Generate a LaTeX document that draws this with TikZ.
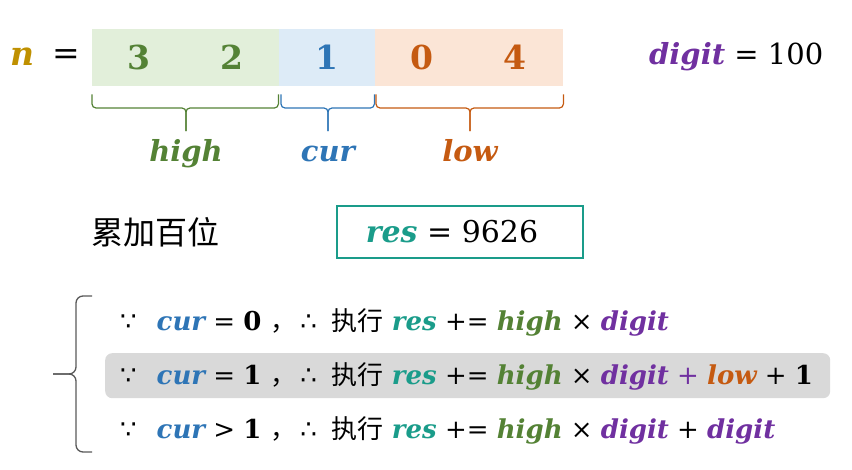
\documentclass[tikz,border=0pt]{standalone}
\usepackage{fontspec}
\setmainfont{DejaVu Serif}
\newfontfamily\cjk{Noto Sans CJK SC}
\newfontfamily\sym{DejaVu Sans}
\definecolor{cgold}{HTML}{BF9000}
\definecolor{cgreen}{HTML}{548235}
\definecolor{cblue}{HTML}{2E75B6}
\definecolor{corange}{HTML}{C55A11}
\definecolor{cpurple}{HTML}{7030A0}
\definecolor{cteal}{HTML}{1A9C8A}
\definecolor{fgreen}{HTML}{E2EFDA}
\definecolor{fblue}{HTML}{DDEBF7}
\definecolor{forange}{HTML}{FBE5D6}
\definecolor{fgray}{HTML}{D9D9D9}
\definecolor{cbrk}{HTML}{595959}
\newcommand\V[2]{\textcolor{#1}{\bfseries\itshape #2}}
\newcommand\rowfont{\fontsize{26}{26}\selectfont\spaceskip 8.2pt\relax}
\newcommand\rowpre[2]{{\sym ∵}\hspace{20pt}\V{cblue}{cur}\ #1\ \textbf{#2}\hspace{9pt}{\cjk ，}\hspace{4pt}{\sym ∴}\hspace{15pt}{\cjk 执行}\hspace{8pt}\V{cteal}{res} += \V{cgreen}{high} × \V{cpurple}{digit}}
\begin{document}
\begin{tikzpicture}[x=1pt,y=-1pt,
  cell/.style={inner sep=0pt, minimum height=57pt, anchor=north west},
  big/.style={font=\fontsize{33}{33}\selectfont, inner sep=0pt},
  lab/.style={font=\fontsize{29}{29}\selectfont, inner sep=0pt},
  row/.style={font=\rowfont, inner sep=0pt, anchor=west},
  brace/.style={line width=1.2pt, rounded corners=4pt}]
\useasboundingbox (0,0) rectangle (852,469);
% cells
\node[cell, fill=fgreen, minimum width=187pt] (hbox) at (92,29) {};
\node[cell, fill=fblue, minimum width=96pt] (cbox) at (279,29) {};
\node[cell, fill=forange, minimum width=188pt] (lbox) at (375,29) {};
\node[big] (nvar) at (22,57) {\V{cgold}{n}};
\node[big] (neq) at (66,57) {=};
\node[big] (d3) at (139,57) {\textcolor{cgreen}{\bfseries 3}};
\node[big] (d2) at (232,57) {\textcolor{cgreen}{\bfseries 2}};
\node[big] (d1) at (327,57) {\textcolor{cblue}{\bfseries 1}};
\node[big] (d0) at (422,57) {\textcolor{corange}{\bfseries 0}};
\node[big] (d4) at (515,57) {\textcolor{corange}{\bfseries 4}};
\node[lab, anchor=west] (dig) at (649,57) {\V{cpurple}{digit} = 100};
% braces
\coordinate (hm) at (186,131);
\coordinate (cm) at (328,131);
\coordinate (lm) at (470,131);
\draw[brace, cgreen] ([yshift=-8pt]hbox.south west) |- (hm |- 0,108) -- (hm);
\draw[brace, cgreen] ([xshift=-1pt,yshift=-8pt]hbox.south east) |- (hm |- 0,108) -- (hm);
\draw[brace, cblue] ([xshift=2pt,yshift=-8pt]cbox.south west) |- (cm |- 0,108) -- (cm);
\draw[brace, cblue] ([xshift=-1pt,yshift=-8pt]cbox.south east) |- (cm |- 0,108) -- (cm);
\draw[brace, corange] ([xshift=1pt,yshift=-8pt]lbox.south west) |- (lm |- 0,108) -- (lm);
\draw[brace, corange] ([yshift=-8pt]lbox.south east) |- (lm |- 0,108) -- (lm);
\node[lab, anchor=base] (hl) at (186,161) {\V{cgreen}{high}};
\node[lab, anchor=base] (cl) at (328,161) {\V{cblue}{cur}};
\node[lab, anchor=base] (ll) at (470,161) {\V{corange}{low}};
% middle
\node[font=\fontsize{32}{32}\selectfont, inner sep=0pt, anchor=west] (acc) at (91,232) {\cjk 累加百位};
\node[draw=cteal, line width=1.8pt, minimum width=246pt, minimum height=52pt, inner sep=0pt] (resbox) at (460,232) {};
\node[font=\fontsize{30}{30}\selectfont, inner sep=0pt] (restext) at (452,232) {\V{cteal}{res} = 9626};
% bracket
\coordinate (btop) at (92,296);
\coordinate (bbot) at (92,452);
\coordinate (btip) at (53,374);
\draw[cbrk, line width=1.3pt, rounded corners=7pt] (btop) -| (76,374) -- (btip);
\draw[cbrk, line width=1.3pt, rounded corners=7pt] (bbot) -| (76,374) -- (btip);
% gray highlight
\node[fill=fgray, rounded corners=7pt, minimum width=725pt, minimum height=45pt, inner sep=0pt, anchor=north west] (hl2) at (105,353) {};
% rows
\node[row] (r1) at (120,322) {\rowpre{=}{0}};
\node[row] (r2) at (120,376) {\rowpre{=}{1} \textcolor{cpurple}{+} \V{corange}{low} + \textbf{1}};
\node[row] (r3) at (120,430) {\rowpre{>}{1} + \V{cpurple}{digit}};
\end{tikzpicture}
\end{document}
